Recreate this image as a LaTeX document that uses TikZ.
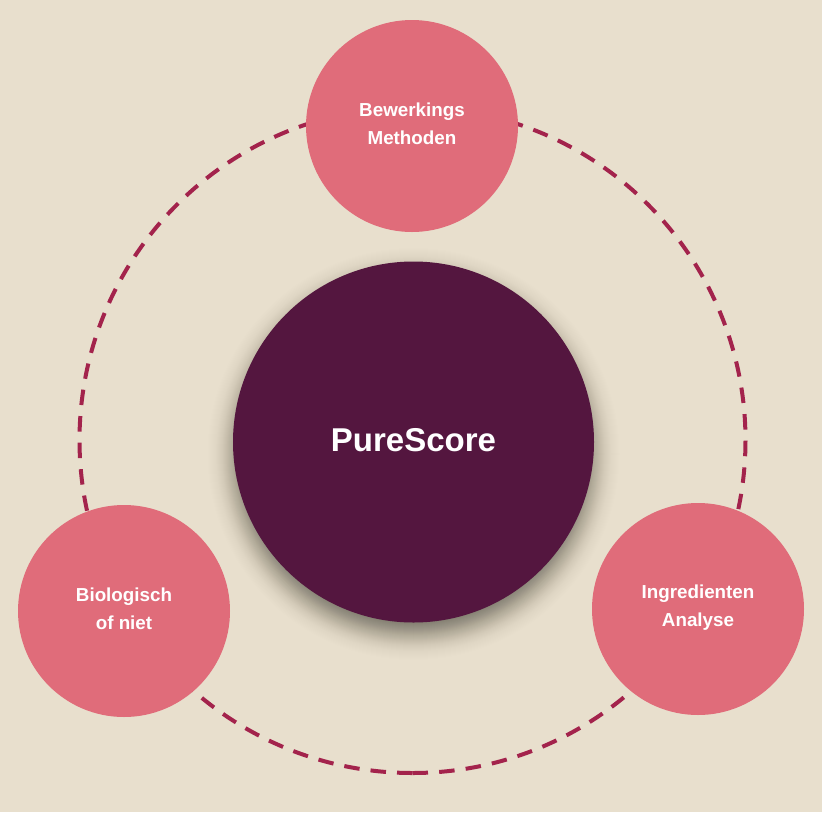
\documentclass[tikz,border=0pt]{standalone}
\usepackage{fontspec}
\setmainfont{Liberation Sans}
\definecolor{sandbg}{HTML}{E8DFCD}
\definecolor{rosefill}{HTML}{E06C7A}
\definecolor{plumfill}{HTML}{54163F}
\definecolor{ringred}{HTML}{A3234C}
\begin{document}
\begin{tikzpicture}[x=1pt,y=1pt]
\tikzstyle{topic}=[circle,fill=rosefill,minimum size=212pt,inner sep=0pt]
\tikzstyle{topictext}=[text=white,align=center,font=\fontsize{18.8}{28}\selectfont\bfseries]
\tikzstyle{ringline}=[ringred,line width=4pt,dash pattern=on 15.5pt off 11.08pt]

\fill[sandbg] (0,0) rectangle (822,-812);
\useasboundingbox (0,0) rectangle (822,-812);

\coordinate (ringbot) at (412.5,-773);

% ring starts at the bottom and runs both ways
\draw[ringline,dash pattern=on 15.5pt off 11.18pt] (ringbot) arc[start angle=270,end angle=460,radius=333];
\draw[ringline] (ringbot) arc[start angle=270,end angle=100,radius=333];

% soft shadow under the centre
\foreach \r in {225,224,...,160} {
  \pgfmathsetmacro{\shade}{0.021*exp(-0.5*((\r-172)/16)^2)}
  \fill[black,fill opacity=\shade] (413.5,-454) circle (\r);
}

\node[circle,fill=plumfill,minimum size=361pt,inner sep=0pt] (pure) at (413.5,-442) {};
\node[text=white,font=\fontsize{33}{40}\selectfont\bfseries] (puretext) at (413.5,-440) {PureScore};

\node[topic] (bewerk) at (412,-126) {};
\node[topic] (ingred) at (698,-609) {};
\node[topic] (bio) at (124,-611) {};

\node[topictext] (bewerktext) at (412,-124) {Bewerkings\\Methoden};
\node[topictext] (ingredtext) at (698,-608) {Ingredienten\\Analyse};
\node[topictext] (biotext) at (124,-609) {Biologisch\\of niet};

\end{tikzpicture}
\end{document}
